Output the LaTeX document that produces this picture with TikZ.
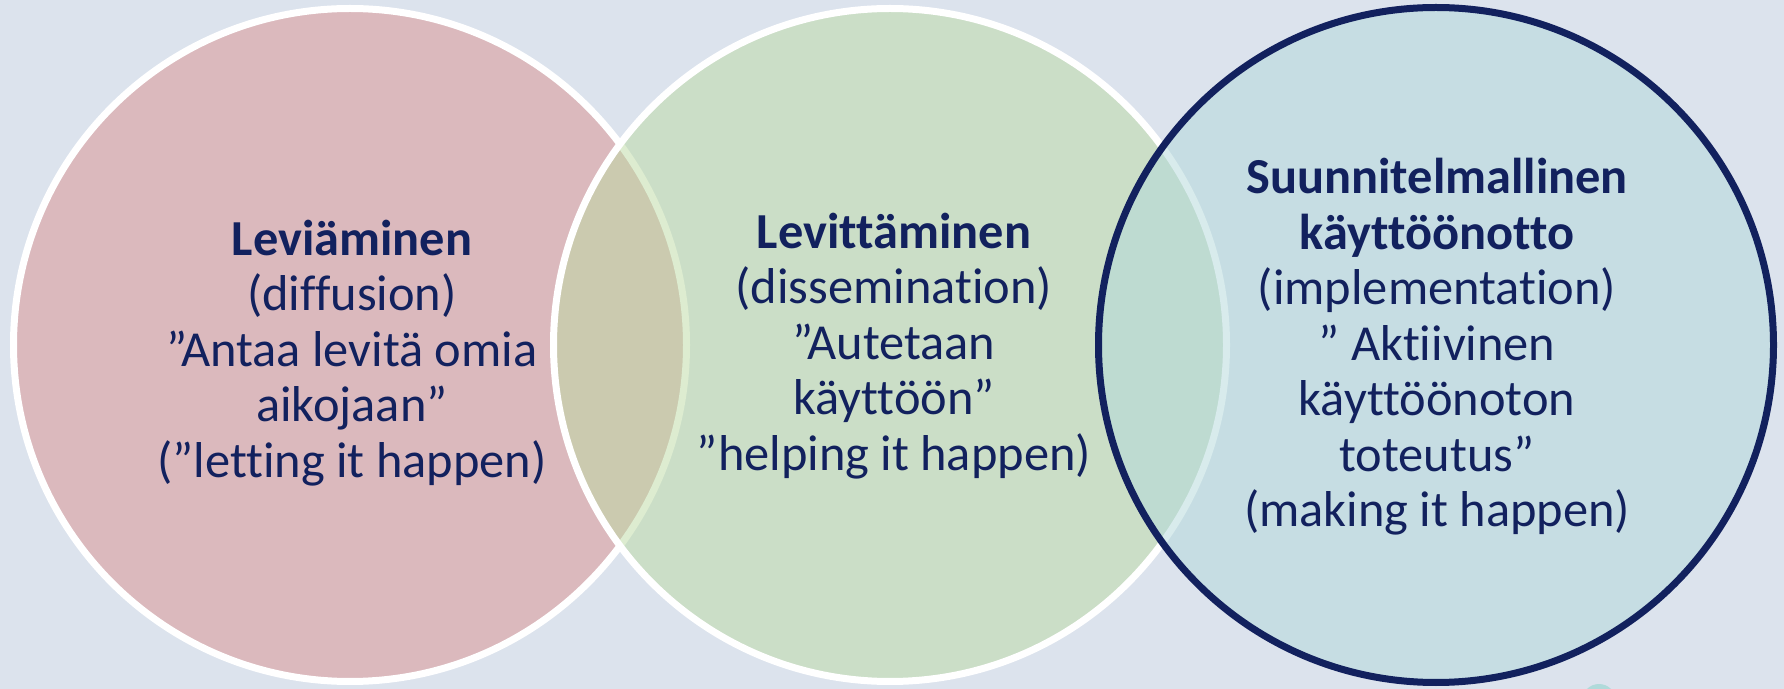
\documentclass[tikz,border=0pt]{standalone}
\usepackage{fontspec}
\setmainfont{Carlito}[Ligatures=NoCommon]
\definecolor{bg}{RGB}{220,227,237}
\definecolor{pinkc}{RGB}{219,185,189}
\definecolor{greenc}{RGB}{188,219,163}
\definecolor{bluec}{RGB}{178,217,219}
\definecolor{navy}{RGB}{18,33,94}
\definecolor{tealdot}{RGB}{176,218,218}
\tikzset{
  ring/.style={circle, inner sep=0pt, minimum size=673pt*0.5, line width=3.5pt},
  txt/.style={text=navy, align=center, font=\fontsize{25.2}{27.75}\selectfont, inner sep=0pt}
}
\begin{document}
\begin{tikzpicture}[x=0.5pt,y=-0.5pt]
\fill[bg] (0,0) rectangle (1784,689);
\useasboundingbox (0,0) rectangle (1784,689);
\node[circle, inner sep=0pt, minimum size=17pt, fill=tealdot] (dot) at (1599,701) {};
\node[ring, fill=pinkc, draw=white] (c1) at (350,345) {};
\node[ring, fill=greenc, fill opacity=0.5, draw=white, draw opacity=1] (c2) at (890,345) {};
\node[ring, minimum size=675pt*0.5, fill=bluec, fill opacity=0.5, draw=navy, draw opacity=1] (c3) at (1436,345) {};
\node[txt] (t1) at (352,353) {\textbf{Leviäminen}\\(diffusion)\\”Antaa levitä omia\\aikojaan”\\(”letting it happen)};
\node[txt] (t2) at (894,346) {\textbf{Levittäminen}\\(dissemination)\\”Autetaan\\käyttöön”\\”helping it happen)};
\node[txt] (t3) at (1437,347) {\textbf{Suunnitelmallinen}\\\textbf{käyttöönotto}\\(implementation)\\” Aktiivinen\\käyttöönoton\\toteutus”\\(making it happen)};
\end{tikzpicture}
\end{document}
